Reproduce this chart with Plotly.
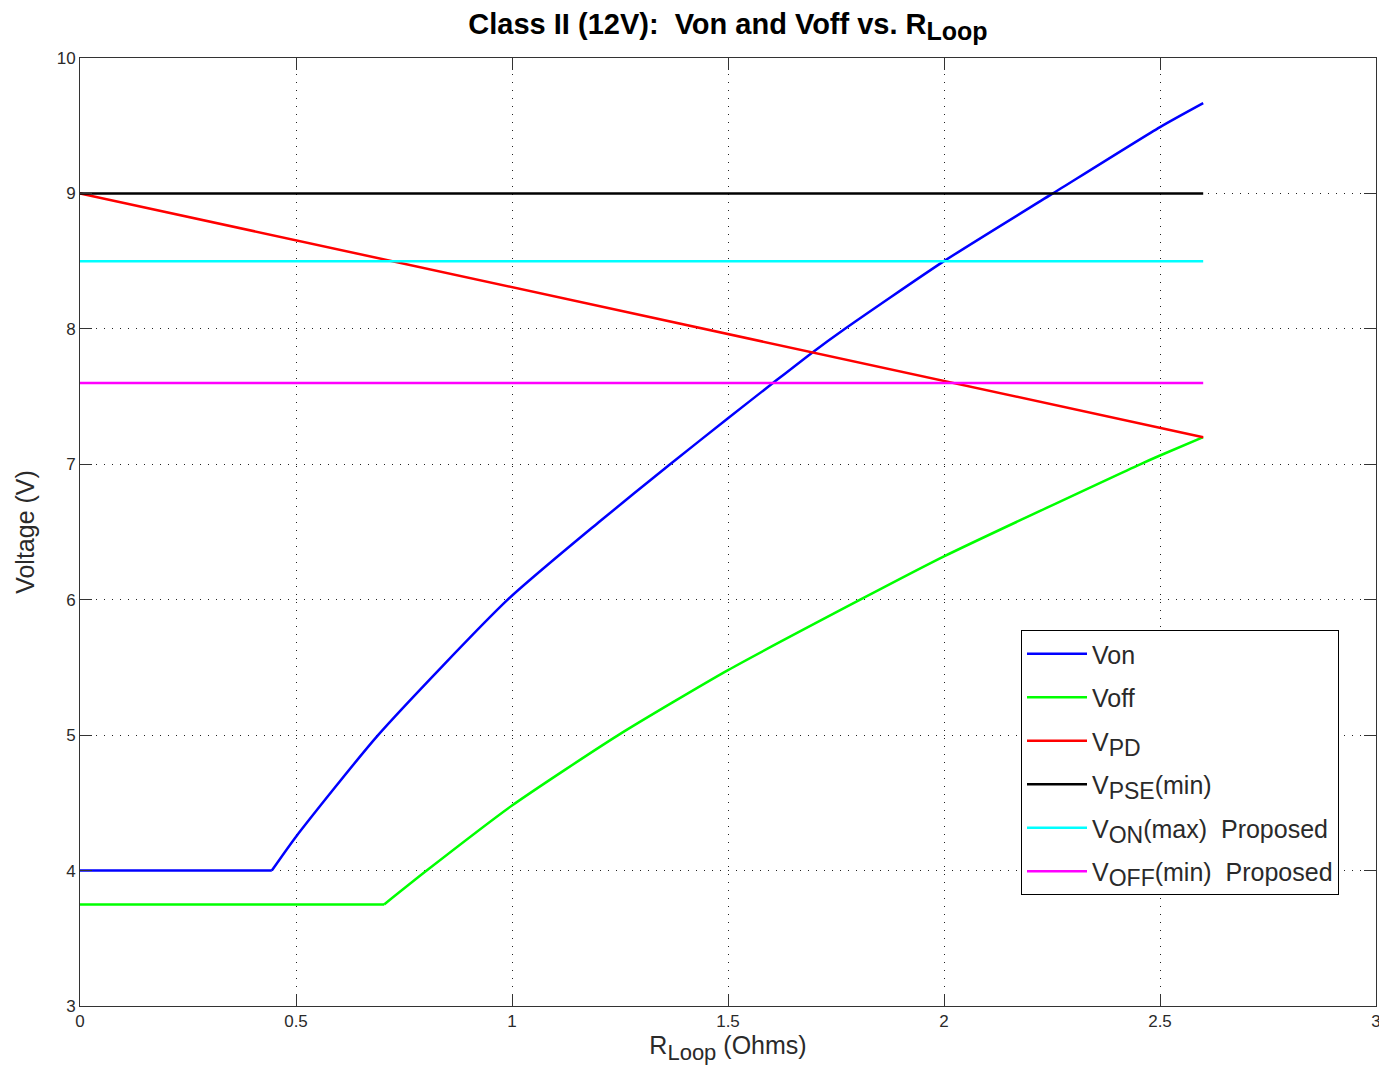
import plotly.graph_objects as go

# ---- data ----
von_r = [0.0, 0.444, 0.5, 0.69, 0.99, 1.2, 1.366, 1.5, 1.604, 1.697, 1.766, 2.0, 2.252, 2.5, 2.6]
von_v = [4.0, 4.0, 4.25, 5.0, 6.0, 6.57, 7.0, 7.34, 7.6, 7.83, 7.99, 8.5, 9.0, 9.49, 9.667]

voff_r = [0.0, 0.704, 0.8025, 1.0, 1.246, 1.5, 1.806, 2.0, 2.454, 2.5, 2.6]
voff_v = [3.75, 3.75, 4.0, 4.48, 5.0, 5.48, 6.0, 6.32, 7.0, 7.065, 7.2]

vpd_r = [0.0, 2.6]
vpd_v = [9.0, 7.2]

const_r = [0.0, 2.6]
vpse_min = [9.0, 9.0]
von_max = [8.5, 8.5]
voff_min = [7.6, 7.6]

x_ticks = [0, 0.5, 1, 1.5, 2, 2.5, 3]
x_tick_labels = ["0", "0.5", "1", "1.5", "2", "2.5", "3"]
y_ticks = [3, 4, 5, 6, 7, 8, 9, 10]
y_tick_labels = ["3", "4", "5", "6", "7", "8", "9", "10"]

FONT = "Liberation Sans, Arial, Helvetica, sans-serif"
LW = 2.5
TXT = "#2a2a2a"


def sub(text, size):
    return "<sub><span style='font-size:%dpx'>%s</span></sub>" % (size, text)


def add_curve(fig, r, v, name, color, group):
    # flat part (linear) + rising part (smooth), drawn as one legend entry
    knee = 1
    fig.add_trace(go.Scatter(x=r[:knee + 1], y=v[:knee + 1], mode="lines", name=name,
                             legendgroup=group, line=dict(color=color, width=LW)))
    fig.add_trace(go.Scatter(x=r[knee:], y=v[knee:], mode="lines", name=name,
                             legendgroup=group, showlegend=False,
                             line=dict(color=color, width=LW, shape="spline", smoothing=0.6)))


LS = 23  # legend sub size
fig = go.Figure()
add_curve(fig, von_r, von_v, "Von", "#0000FF", "g1")
add_curve(fig, voff_r, voff_v, "Voff", "#00FF00", "g2")
fig.add_trace(go.Scatter(x=vpd_r, y=vpd_v, mode="lines", name="V" + sub("PD", LS), legendgroup="g3",
                         line=dict(color="#FF0000", width=LW)))
fig.add_trace(go.Scatter(x=const_r, y=vpse_min, mode="lines", name="V" + sub("PSE", LS) + "(min)",
                         legendgroup="g4", line=dict(color="#000000", width=LW)))
fig.add_trace(go.Scatter(x=const_r, y=von_max, mode="lines", name="V" + sub("ON", LS) + "(max)  Proposed",
                         legendgroup="g5", line=dict(color="#00FFFF", width=LW)))
fig.add_trace(go.Scatter(x=const_r, y=voff_min, mode="lines", name="V" + sub("OFF", LS) + "(min)  Proposed",
                         legendgroup="g6", line=dict(color="#FF00FF", width=LW)))

axis_common = dict(
    showgrid=True, gridcolor="#222222", gridwidth=1, griddash="1px,7px",
    zeroline=False, showline=True, linecolor="#333333", linewidth=1, mirror="allticks",
    ticks="inside", ticklen=12, tickcolor="#333333", automargin=False,
    ticklabeloverflow="allow",
    tickfont=dict(family=FONT, size=17, color=TXT),
)

fig.update_xaxes(range=[0, 3], tickmode="array", tickvals=x_ticks, ticktext=x_tick_labels,
                 title=dict(text="R" + sub("Loop", 22) + " (Ohms)", font=dict(family=FONT, size=25, color=TXT),
                            standoff=2),
                 **axis_common)
fig.update_yaxes(range=[3, 10], tickmode="array", tickvals=y_ticks, ticktext=y_tick_labels,
                 title=dict(text="Voltage (V)", font=dict(family=FONT, size=25, color=TXT),
                            standoff=14),
                 **axis_common)

fig.update_layout(
    width=1379, height=1071,
    margin=dict(l=80, r=3, t=58, b=65),
    paper_bgcolor="white", plot_bgcolor="white",
    title=dict(text="<b>Class II (12V):  Von and Voff vs. R" + sub("Loop", 25) + "</b>",
               x=728 / 1379, xanchor="center", y=1 - 24 / 1071, yanchor="middle",
               font=dict(family=FONT, size=29, color="#000000")),
    legend=dict(x=(1021 - 80) / 1296, y=(1006 - 630) / 948, xanchor="left", yanchor="top",
                bordercolor="#000000", borderwidth=1, bgcolor="white",
                font=dict(family=FONT, size=25, color=TXT),
                tracegroupgap=8, itemwidth=60),
    showlegend=True,
)

fig.write_html("out.html", config={"displayModeBar": False},
               post_script="document.body.style.margin='0';document.body.style.overflow='hidden';")
